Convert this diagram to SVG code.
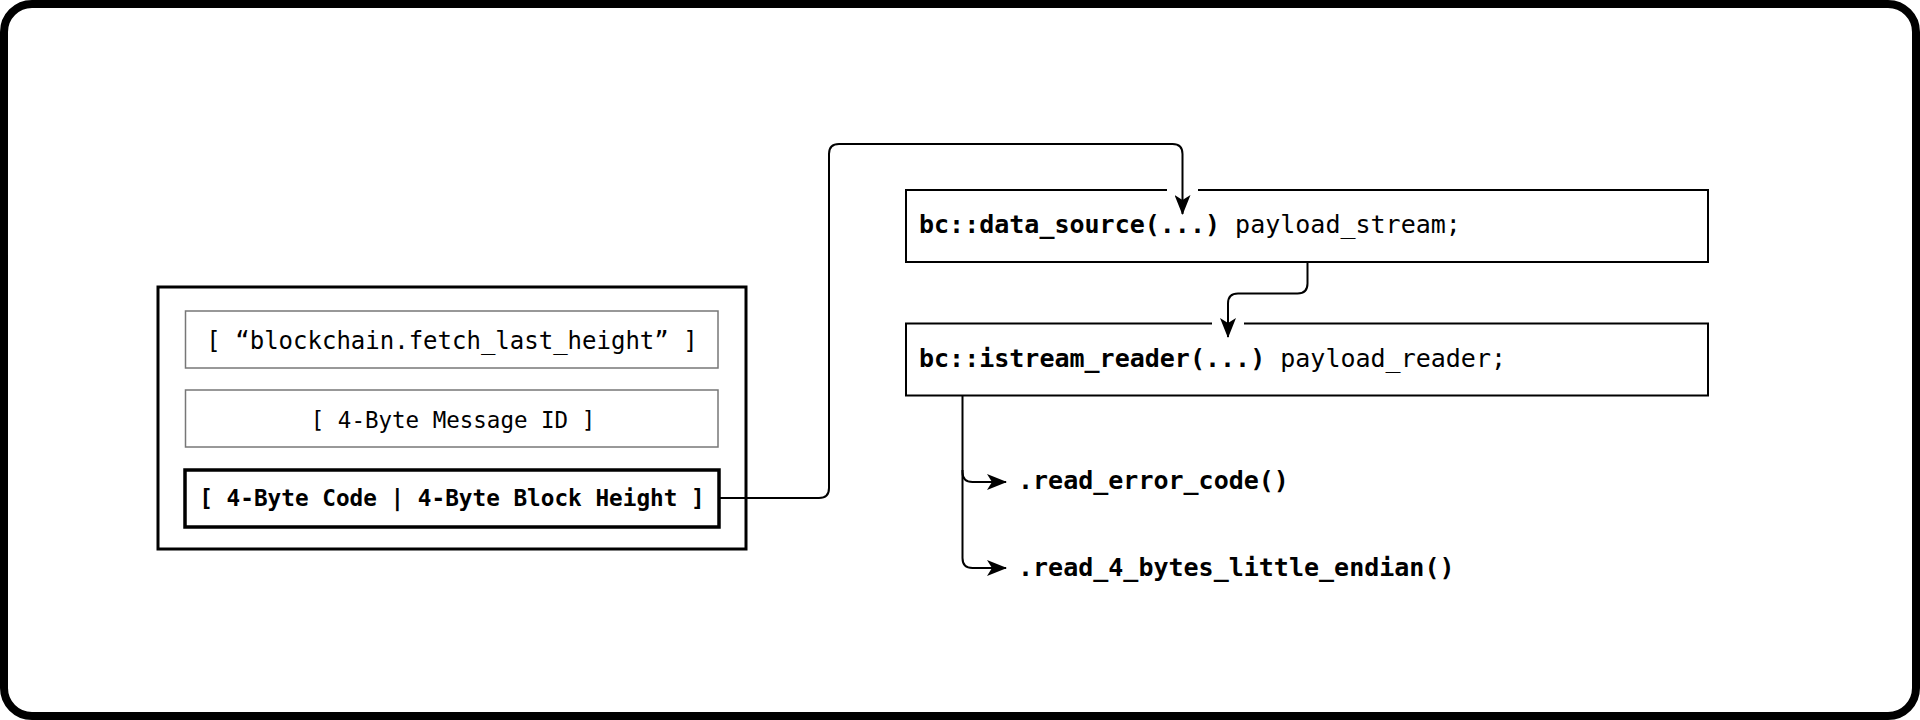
<svg xmlns="http://www.w3.org/2000/svg" width="1920" height="720" viewBox="0 0 1920 720">
  <defs>
    <marker id="arr" viewBox="0 0 20 16" refX="19" refY="8" markerWidth="20" markerHeight="16" markerUnits="userSpaceOnUse" orient="auto">
      <path d="M0,0 L20,8 L0,16 L5,8 Z" fill="#000"/>
    </marker>
    <style>
      .mono { font-family: "DejaVu Sans Mono", "Liberation Mono", monospace; fill: #000; }
      .b { font-weight: bold; }
      .conn { fill: none; stroke: #000; stroke-width: 2; }
      .field { fill: #fff; stroke: #777; stroke-width: 1.5; }
      .decl { fill: #fff; stroke: #000; stroke-width: 2; }
    </style>
  </defs>
  <rect x="0" y="0" width="1920" height="720" fill="#fff"/>
  <rect id="frame" x="4" y="4" width="1912" height="712" rx="28" ry="28" fill="none" stroke="#000" stroke-width="8"/>

  <g id="message">
    <rect x="158" y="287" width="588" height="262" fill="#fff" stroke="#000" stroke-width="3"/>
  </g>
  <g id="field-command">
    <rect class="field" x="185.5" y="311" width="532.5" height="57"/>
    <text class="mono" x="452" y="349" font-size="24" text-anchor="middle">[ “blockchain.fetch_last_height” ]</text>
  </g>
  <g id="field-id">
    <rect class="field" x="185.5" y="390" width="532.5" height="57"/>
    <text class="mono" x="453" y="428" font-size="22.5" text-anchor="middle">[ 4-Byte Message ID ]</text>
  </g>
  <g id="field-payload">
    <rect x="185" y="470" width="534" height="57" fill="#fff" stroke="#000" stroke-width="3.5"/>
    <text class="mono b" x="452" y="506" font-size="22.7" text-anchor="middle">[ 4-Byte Code | 4-Byte Block Height ]</text>
  </g>

  <g id="data-source">
    <rect class="decl" x="906" y="190" width="802" height="72"/>
    <text class="mono" x="919" y="233" font-size="25"><tspan class="b">bc::data_source(...)</tspan> payload_stream;</text>
  </g>
  <g id="istream-reader">
    <rect class="decl" x="906" y="323.5" width="802" height="72"/>
    <text class="mono" x="919" y="367" font-size="25"><tspan class="b">bc::istream_reader(...)</tspan> payload_reader;</text>
  </g>
  <g id="read-error-code">
    <text class="mono b" x="1018" y="489" font-size="25">.read_error_code()</text>
  </g>
  <g id="read-height">
    <text class="mono b" x="1018" y="576" font-size="25">.read_4_bytes_little_endian()</text>
  </g>

  <g id="connectors">
    <rect x="1167" y="186" width="31" height="8" fill="#fff"/>
    <rect x="1212" y="319" width="32" height="8" fill="#fff"/>
    <path class="conn" d="M719,498 H819 Q829,498 829,488 V154 Q829,144 839,144 H1172.5 Q1182.5,144 1182.5,154 V214" marker-end="url(#arr)"/>
    <path class="conn" d="M1307.5,262 V283.5 Q1307.5,293.5 1297.5,293.5 H1238 Q1228,293.5 1228,303.5 V337" marker-end="url(#arr)"/>
    <path class="conn" d="M962.5,395.5 V472 Q962.5,482 972.5,482 H1006" marker-end="url(#arr)"/>
    <path class="conn" d="M962.5,470 V558 Q962.5,568 972.5,568 H1006" marker-end="url(#arr)"/>
  </g>
</svg>
